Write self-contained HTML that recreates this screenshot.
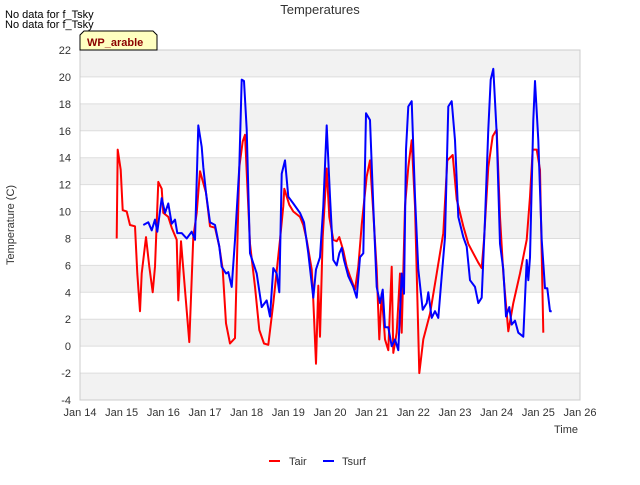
<!DOCTYPE html>
<html><head><meta charset="utf-8"><style>
body{margin:0;background:#fff;width:640px;height:480px;overflow:hidden;font-family:"Liberation Sans",sans-serif}
svg text{font-family:"Liberation Sans",sans-serif}
</style></head><body>
<svg id="chart" width="640" height="480" viewBox="0 0 640 480">
<text x="320" y="14" text-anchor="middle" font-size="13" fill="#333">Temperatures</text>
<text x="5" y="18" font-size="11" fill="#000">No data for f_Tsky</text>
<text x="5" y="28" font-size="11" fill="#000">No data for f_Tsky</text>
<g id="bands"></g>
<g id="grid"></g>
<rect x="80" y="50" width="500" height="350" fill="none" stroke="#ccc"/>
<g id="yticks"></g>
<g id="xticks"></g>
<g id="series"></g>
<g>
<path d="M80,50 L80,35 L84,31 L153,31 L157,35 L157,50 Z" fill="#ffffc0" stroke="#000"/>
<text x="87" y="46" font-size="11" font-weight="bold" fill="#8b0000">WP_arable</text>
</g>
<text x="14" y="225" font-size="11" fill="#333" text-anchor="middle" transform="rotate(-90 14 225)">Temperature (C)</text>
<text x="578" y="433" font-size="11" fill="#333" text-anchor="end">Time</text>
<g>
<g><line x1="269" y1="461" x2="280" y2="461" stroke="red" stroke-width="2"/><text x="289" y="465" font-size="11" fill="#333">Tair</text></g>
<g><line x1="323" y1="461" x2="334" y2="461" stroke="blue" stroke-width="2"/><text x="342" y="465" font-size="11" fill="#333">Tsurf</text></g>
</g>
</svg>
<script>
const yTicks=[-4,-2,0,2,4,6,8,10,12,14,16,18,20,22];
const xTickLabels=["Jan 14","Jan 15","Jan 16","Jan 17","Jan 18","Jan 19","Jan 20","Jan 21","Jan 22","Jan 23","Jan 24","Jan 25","Jan 26"];
const tairDays=[0.881,0.905,0.977,1.025,1.121,1.2,1.32,1.375,1.44,1.481,1.584,1.663,1.745,1.8,1.879,1.961,1.999,2.119,2.201,2.321,2.359,2.424,2.623,2.719,2.801,2.88,3.024,3.12,3.24,3.343,3.425,3.504,3.6,3.72,3.823,3.905,3.96,4.08,4.2,4.303,4.416,4.519,4.639,4.8,4.879,4.903,5.023,5.119,5.28,5.359,5.441,5.561,5.599,5.664,5.719,5.76,5.825,5.921,5.983,6.079,6.161,6.223,6.319,6.401,6.48,6.6,6.679,6.761,6.881,6.96,7.039,7.121,7.183,7.241,7.32,7.399,7.481,7.519,7.601,7.68,7.721,7.8,7.879,7.961,8.04,8.143,8.239,8.4,8.561,8.719,8.815,8.945,9.041,9.199,9.319,9.439,9.559,9.641,9.696,9.799,9.905,10.001,10.08,10.159,10.279,10.399,10.56,10.721,10.8,10.865,10.961,11.04,11.119];
const tairValues=[8.0,14.6,13.1,10.1,10.0,9.0,8.9,5.4,2.6,5.4,8.1,5.9,4.0,5.9,12.2,11.7,9.9,9.6,8.8,7.9,3.4,7.8,0.3,8.1,9.9,13.0,11.4,8.9,8.8,7.4,5.7,1.7,0.2,0.6,13.3,15.2,15.7,7.6,4.4,1.2,0.2,0.1,3.2,7.9,10.4,11.7,10.5,10.0,9.6,9.0,7.9,5.7,3.4,-1.3,4.5,0.7,8.1,13.2,9.6,7.9,7.8,8.1,7.1,5.9,5.2,4.2,5.9,9.0,12.6,13.8,9.9,5.7,0.5,3.9,0.5,-0.3,5.9,-0.5,1.0,5.4,1.0,10.4,13.3,15.3,10.4,-2.0,0.5,2.4,5.4,8.4,13.8,14.2,10.9,8.9,7.6,6.9,6.2,5.8,7.9,13.3,15.6,16.1,9.6,5.4,1.1,3.2,5.4,7.9,11.1,14.6,14.6,13.1,1.0];
const tsurfDays=[1.519,1.639,1.721,1.8,1.855,1.961,2.04,2.119,2.201,2.28,2.335,2.441,2.561,2.681,2.76,2.839,2.921,2.959,3.024,3.12,3.24,3.343,3.401,3.504,3.559,3.641,3.72,3.823,3.881,3.936,4.001,4.08,4.241,4.361,4.481,4.56,4.639,4.721,4.783,4.841,4.92,4.999,5.119,5.28,5.376,5.479,5.599,5.664,5.76,5.839,5.921,6.0,6.079,6.161,6.223,6.281,6.336,6.439,6.559,6.641,6.72,6.799,6.864,6.96,7.039,7.121,7.2,7.265,7.32,7.399,7.481,7.56,7.639,7.721,7.776,7.824,7.879,7.961,8.04,8.119,8.225,8.321,8.359,8.441,8.52,8.599,8.681,8.76,8.839,8.921,9.0,9.079,9.199,9.281,9.36,9.48,9.559,9.641,9.72,9.799,9.857,9.919,10.001,10.08,10.159,10.224,10.303,10.361,10.44,10.519,10.639,10.721,10.759,10.8,10.879,10.92,10.999,11.081,11.16,11.215,11.28,11.321];
const tsurfValues=[9.0,9.2,8.6,9.4,8.5,11.0,9.9,10.6,9.1,9.4,8.4,8.4,8.0,8.5,7.9,16.4,14.8,13.3,11.4,9.2,9.0,7.4,5.9,5.4,5.5,4.4,7.9,13.3,19.8,19.7,16.1,6.9,5.4,2.9,3.4,2.2,5.8,5.4,4.0,12.8,13.8,11.1,10.6,9.9,9.2,6.9,3.6,5.7,6.6,10.4,16.4,11.1,6.4,6.0,6.9,7.3,6.4,5.2,4.4,3.6,6.6,6.9,17.3,16.8,10.4,4.4,3.2,4.2,1.4,1.4,0.0,0.5,-0.3,5.4,3.9,14.6,17.8,18.2,11.1,5.7,2.7,3.2,4.0,2.1,2.6,2.1,5.2,8.1,17.8,18.2,15.3,9.6,8.1,7.4,4.9,4.4,3.2,3.6,9.4,16.1,19.8,20.6,15.8,7.6,5.7,2.2,2.9,1.6,1.9,1.0,0.7,6.4,4.9,6.6,16.8,19.7,15.3,7.9,4.3,4.3,2.6,2.6];

const NS="http://www.w3.org/2000/svg";
const X0=80,X1=580,Y0=50,Y1=400,dMin=0,dMax=12,vMin=-4,vMax=22;
function xs(d){return X0+(d-dMin)/(dMax-dMin)*(X1-X0);}
function ys(v){return Y1-(v-vMin)/(vMax-vMin)*(Y1-Y0);}
function mk(tag,attrs,parent){const e=document.createElementNS(NS,tag);for(const k in attrs)e.setAttribute(k,attrs[k]);parent.appendChild(e);return e;}
const bands=document.getElementById('bands'),grid=document.getElementById('grid'),yt=document.getElementById('yticks'),xt=document.getElementById('xticks'),ser=document.getElementById('series');
for(let i=0;i<yTicks.length-1;i++){
  if(i%2===0){const r=mk('rect',{x:X0,y:ys(yTicks[i+1]),width:X1-X0,height:ys(yTicks[i])-ys(yTicks[i+1]),fill:'#f2f2f2'},bands);
  
  }
}
yTicks.forEach(v=>{
  const l=mk('line',{x1:X0,x2:X1,y1:ys(v),y2:ys(v),stroke:'#ddd'},grid);
  
  
  const t=mk('text',{x:71,y:ys(v)+4,'text-anchor':'end','font-size':11,fill:'#333'},yt);
  
  
  t.textContent=v;
});
xTickLabels.forEach((lab,i)=>{
  const t=mk('text',{x:xs(i),y:416,'text-anchor':'middle','font-size':11,fill:'#333'},xt);
  
  
  t.textContent=lab;
});
function line(days,vals,color,name){
  const p=mk('polyline',{points:days.map((d,i)=>xs(d).toFixed(1)+','+ys(vals[i]).toFixed(1)).join(' '),fill:'none',stroke:color,'stroke-width':2,'stroke-linejoin':'round'},ser);
  
  
}
line(tairDays,tairValues,'red','tair-line');
line(tsurfDays,tsurfValues,'blue','tsurf-line');
</script>
</body></html>
